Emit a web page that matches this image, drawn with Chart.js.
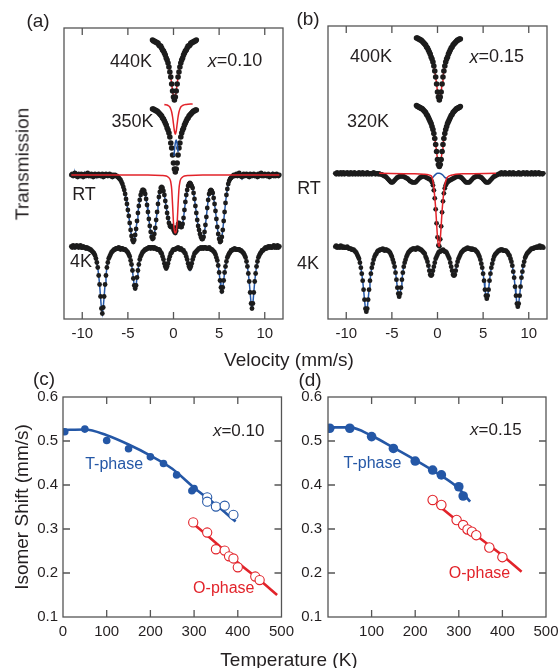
<!DOCTYPE html>
<html>
<head>
<meta charset="utf-8">
<script src="https://cdn.jsdelivr.net/npm/chart.js@4.4.1/dist/chart.umd.min.js"></script>
<style>
html,body{margin:0;padding:0;background:#fff;width:559px;height:668px;overflow:hidden;}
#wrap{position:relative;width:559px;height:668px;overflow:hidden;font-family:"Liberation Sans",Arial,Helvetica,sans-serif;color:#231f20;}
canvas{position:absolute;}
.lbl{position:absolute;white-space:nowrap;line-height:1;transform:translate(-50%,-50%);}
</style>
</head>
<body>
<div id="wrap">
<canvas id="ca" width="300" height="350" style="left:0px;top:0px"></canvas>
<canvas id="cb" width="275" height="350" style="left:290px;top:0px"></canvas>
<canvas id="cc" width="300" height="300" style="left:0px;top:360px"></canvas>
<canvas id="cd" width="275" height="300" style="left:290px;top:360px"></canvas>
<div class="lbl" style="left:38px;top:20px;font-size:19px">(a)</div>
<div class="lbl" style="left:308px;top:18px;font-size:19px">(b)</div>
<div class="lbl" style="left:44px;top:378px;font-size:19px">(c)</div>
<div class="lbl" style="left:310px;top:379px;font-size:19px">(d)</div>
<div class="lbl" style="left:22px;top:164px;font-size:19px;transform:translate(-50%,-50%) rotate(-90deg)">Transmission</div>
<div class="lbl" style="left:289px;top:359px;font-size:19px">Velocity (mm/s)</div>
<div class="lbl" style="left:289px;top:659px;font-size:19px">Temperature (K)</div>
</div>
<script>
// ---------------- DATA ----------------
// Velocity channels (mm/s)
const velocityWide = [
-11.2,-11.1,-11.0,-10.9,-10.8,-10.7,-10.6,-10.5,-10.4,-10.3,
-10.2,-10.1,-10.0,-9.9,-9.8,-9.7,-9.6,-9.5,-9.4,-9.3,
-9.2,-9.1,-9.0,-8.9,-8.8,-8.7,-8.6,-8.5,-8.4,-8.3,
-8.2,-8.1,-8.0,-7.9,-7.8,-7.7,-7.6,-7.5,-7.4,-7.3,
-7.2,-7.1,-7.0,-6.9,-6.8,-6.7,-6.6,-6.5,-6.4,-6.3,
-6.2,-6.1,-6.0,-5.9,-5.8,-5.7,-5.6,-5.5,-5.4,-5.3,
-5.2,-5.1,-5.0,-4.9,-4.8,-4.7,-4.6,-4.5,-4.4,-4.3,
-4.2,-4.1,-4.0,-3.9,-3.8,-3.7,-3.6,-3.5,-3.4,-3.3,
-3.2,-3.1,-3.0,-2.9,-2.8,-2.7,-2.6,-2.5,-2.4,-2.3,
-2.2,-2.1,-2.0,-1.9,-1.8,-1.7,-1.6,-1.5,-1.4,-1.3,
-1.2,-1.1,-1.0,-0.9,-0.8,-0.7,-0.6,-0.5,-0.4,-0.3,
-0.2,-0.1,0.0,0.1,0.2,0.3,0.4,0.5,0.6,0.7,
0.8,0.9,1.0,1.1,1.2,1.3,1.4,1.5,1.6,1.7,
1.8,1.9,2.0,2.1,2.2,2.3,2.4,2.5,2.6,2.7,
2.8,2.9,3.0,3.1,3.2,3.3,3.4,3.5,3.6,3.7,
3.8,3.9,4.0,4.1,4.2,4.3,4.4,4.5,4.6,4.7,
4.8,4.9,5.0,5.1,5.2,5.3,5.4,5.5,5.6,5.7,
5.8,5.9,6.0,6.1,6.2,6.3,6.4,6.5,6.6,6.7,
6.8,6.9,7.0,7.1,7.2,7.3,7.4,7.5,7.6,7.7,
7.8,7.9,8.0,8.1,8.2,8.3,8.4,8.5,8.6,8.7,
8.8,8.9,9.0,9.1,9.2,9.3,9.4,9.5,9.6,9.7,
9.8,9.9,10.0,10.1,10.2,10.3,10.4,10.5,10.6,10.7,
10.8,10.9,11.0,11.1,11.2,11.3,11.4,11.5,11.6];
const velocityNarrow = [
-2.3,-2.2,-2.1,-2.0,-1.9,-1.8,-1.7,-1.6,-1.5,-1.4,
-1.3,-1.2,-1.1,-1.0,-0.9,-0.8,-0.7,-0.6,-0.5,-0.4,
-0.3,-0.2,-0.1,0.0,0.1,0.2,0.3,0.4,0.5,0.6,
0.7,0.8,0.9,1.0,1.1,1.2,1.3,1.4,1.5,1.6,
1.7,1.8,1.9,2.0,2.1,2.2,2.3,2.4,2.5];
const velocityTicks = [-10, -5, 0, 5, 10];

// (a) x = 0.10 : relative transmission (%)
const trans440K_a = [
99.5,99.4,99.4,99.3,99.3,99.2,99.2,99.0,98.9,98.9,
98.7,98.5,98.4,98.2,98.0,97.7,97.5,97.2,96.8,96.3,
95.8,95.1,94.4,93.8,93.5,93.8,94.4,95.1,95.8,96.3,
96.8,97.2,97.5,97.7,98.0,98.2,98.4,98.5,98.7,98.9,
98.9,99.0,99.2,99.2,99.3,99.3,99.4,99.4,99.5];
const trans350K_a = [
99.5,99.5,99.4,99.4,99.3,99.3,99.2,99.1,99.0,98.9,
98.8,98.6,98.5,98.3,98.1,97.9,97.6,97.4,97.1,96.7,
96.1,95.6,94.9,94.1,93.5,93.2,93.5,94.1,94.9,95.6,
96.1,96.7,97.1,97.4,97.6,97.9,98.1,98.3,98.5,98.6,
98.8,98.9,99.0,99.1,99.2,99.3,99.3,99.4,99.4];
const velRed350K_a   = [-1.0,-0.6,-0.4,-0.3,-0.2,-0.1,0.0,0.1,0.2,0.3,0.4,0.5,0.6,0.7,0.8,1.0,1.4,2.1];
const transRed350K_a = [99.95,99.85,99.7,99.5,99.2,98.7,98.0,97.3,97.0,97.3,98.0,98.7,99.2,99.5,99.7,99.85,99.95,100.0];
const velBlue350K_a   = [0.05,0.1,0.2,0.3,0.4,0.5];
const transBlue350K_a = [94.8,95.3,96.1,96.4,96.0,95.2];
const transRT_a = [
100.0,100.1,99.9,100.0,100.2,99.9,100.0,99.8,100.1,100.0,
99.9,100.1,100.0,99.8,100.0,100.1,99.9,100.0,100.2,99.9,
100.0,99.9,100.1,100.0,99.8,100.0,100.1,99.9,100.0,99.9,
100.1,100.0,99.9,100.0,100.1,99.8,100.0,99.9,100.1,100.0,
99.9,100.0,100.1,99.9,100.0,99.8,100.0,99.9,100.0,99.9,
99.9,99.8,99.7,99.6,99.5,99.3,99.1,98.8,98.5,98.1,
97.6,97.1,96.5,95.9,95.2,94.5,93.9,93.5,93.3,93.5,
94.0,94.6,95.4,96.2,96.9,97.5,98.0,98.3,98.5,98.5,
98.4,98.1,97.6,97.0,96.3,95.6,94.9,94.3,93.8,93.6,
93.7,94.1,94.7,95.5,96.3,97.1,97.8,98.3,98.7,98.8,
98.7,98.4,98.0,97.4,96.8,96.2,95.7,95.2,94.9,94.8,
94.9,94.8,94.5,94.3,94.2,94.4,94.8,95.1,95.2,95.0,
94.8,94.8,95.1,95.7,96.5,97.3,98.0,98.5,98.9,99.1,
99.2,99.1,98.9,98.7,98.2,97.6,96.9,96.2,95.5,94.9,
94.5,94.1,93.8,93.6,93.6,93.8,94.3,95.0,95.8,96.7,
97.5,98.1,98.4,98.5,98.4,98.2,97.7,97.1,96.4,95.6,
94.8,94.1,93.6,93.3,93.4,93.8,94.5,95.4,96.3,97.2,
98.0,98.6,99.1,99.4,99.6,99.7,99.8,99.9,100.0,99.9,
100.0,100.1,99.9,100.0,100.2,99.9,100.0,99.8,100.0,100.1,
99.9,100.0,100.1,99.9,100.0,99.8,100.1,100.0,99.9,100.0,
100.1,99.9,100.0,100.0,99.8,100.1,99.9,100.0,100.2,99.9,
100.0,99.9,100.1,100.0,99.9,100.0,100.1,99.8,100.0,99.9,
100.0,100.1,99.9,100.0,99.9,100.1,100.0,99.9,100.0];
const velRedRT_a   = [-11.2,-2.8,-1.3,-0.8,-0.6,-0.4,-0.3,-0.2,-0.1,0.0,0.1,0.2,0.3,0.4,0.5,0.6,0.7,0.8,1.0,1.2,1.7,3.2,11.6];
const transRedRT_a = [100.0,100.0,99.95,99.9,99.8,99.6,99.3,98.6,97.0,95.2,94.4,94.2,94.4,95.2,97.0,98.6,99.3,99.6,99.8,99.9,99.95,100.0,100.0];
const trans4K_a = [
100.0,99.9,100.1,100.0,99.9,100.0,100.1,100.0,99.9,100.0,
100.1,99.9,99.9,100.0,99.9,99.9,99.8,99.9,99.8,99.8,
99.7,99.7,99.6,99.5,99.4,99.3,99.1,98.8,98.4,97.9,
97.1,96.2,95.0,93.8,93.3,93.9,95.0,96.2,97.1,97.9,
98.4,98.8,99.0,99.2,99.4,99.5,99.6,99.7,99.7,99.8,
99.8,99.8,99.9,99.8,99.7,99.8,99.8,99.7,99.7,99.7,
99.6,99.5,99.4,99.2,99.0,98.6,98.2,97.6,96.8,96.1,
95.8,96.1,96.9,97.6,98.2,98.7,99.0,99.2,99.4,99.5,
99.6,99.7,99.7,99.8,99.8,99.9,99.9,99.8,99.9,99.9,
99.8,99.9,99.8,99.8,99.7,99.7,99.7,99.6,99.4,99.3,
99.0,98.7,98.3,98.0,97.8,98.0,98.3,98.7,99.0,99.3,
99.4,99.6,99.7,99.7,99.7,99.8,99.8,99.9,99.8,99.7,
99.8,99.7,99.6,99.6,99.4,99.3,99.0,98.7,98.3,98.0,
97.8,98.0,98.3,98.7,99.0,99.3,99.4,99.5,99.6,99.7,
99.8,99.8,99.9,99.8,99.9,99.8,99.9,99.9,99.8,99.8,
99.8,99.9,99.8,99.7,99.7,99.6,99.5,99.4,99.2,98.9,
98.6,98.1,97.4,96.6,95.9,95.5,95.9,96.6,97.4,98.0,
98.5,98.9,99.1,99.3,99.4,99.6,99.6,99.7,99.7,99.8,
99.7,99.7,99.7,99.7,99.7,99.6,99.6,99.5,99.4,99.3,
99.1,98.9,98.5,98.0,97.3,96.5,95.4,94.3,93.8,94.3,
95.4,96.5,97.3,98.0,98.5,98.9,99.1,99.3,99.4,99.6,
99.6,99.7,99.8,99.9,99.8,99.9,100.0,99.9,100.0,99.9,
99.9,100.0,100.1,99.9,100.0,99.9,100.1,99.9,100.0];

// (b) x = 0.15 : relative transmission (%)
const trans400K_b = [
99.5,99.5,99.4,99.4,99.3,99.3,99.2,99.1,99.0,98.9,
98.8,98.6,98.5,98.3,98.1,97.9,97.6,97.4,97.1,96.7,
96.2,95.6,94.9,94.1,93.6,93.3,93.6,94.1,94.9,95.6,
96.2,96.7,97.1,97.4,97.6,97.9,98.1,98.3,98.5,98.6,
98.8,98.9,99.0,99.1,99.2,99.3,99.3,99.4,99.4];
const trans320K_b = [
99.6,99.5,99.5,99.4,99.4,99.3,99.3,99.2,99.1,99.0,
98.9,98.7,98.6,98.4,98.2,98.0,97.8,97.5,97.2,96.8,
96.3,95.7,95.0,94.2,93.7,93.5,93.7,94.2,95.0,95.7,
96.3,96.8,97.2,97.5,97.8,98.0,98.2,98.4,98.6,98.7,
98.9,99.0,99.1,99.2,99.3,99.3,99.4,99.4,99.5];
const transRT_b = [
100.0,99.9,100.1,100.0,99.9,100.0,100.1,99.9,100.0,100.1,
99.9,100.0,100.0,100.1,99.9,100.0,99.9,100.1,100.0,99.9,
100.0,100.1,99.9,100.0,100.0,99.9,100.1,100.0,99.9,100.0,
100.1,99.9,100.0,100.0,99.9,100.1,100.0,99.9,100.0,100.0,
99.9,100.0,100.1,100.0,99.9,100.0,100.0,99.9,100.0,99.9,
99.9,99.9,99.8,99.8,99.7,99.7,99.6,99.5,99.4,99.3,
99.2,99.1,99.1,99.1,99.2,99.3,99.4,99.5,99.6,99.6,
99.7,99.7,99.7,99.7,99.7,99.7,99.6,99.6,99.5,99.5,
99.4,99.3,99.2,99.2,99.1,99.1,99.1,99.1,99.1,99.2,
99.3,99.4,99.5,99.6,99.6,99.7,99.7,99.7,99.7,99.6,
99.6,99.5,99.5,99.4,99.4,99.3,99.1,98.8,98.3,97.5,
96.4,95.0,93.6,92.8,92.7,93.4,94.7,96.1,97.2,98.0,
98.5,98.8,99.0,99.1,99.2,99.3,99.3,99.4,99.4,99.5,
99.5,99.6,99.6,99.7,99.7,99.7,99.7,99.6,99.6,99.5,
99.4,99.3,99.2,99.1,99.1,99.1,99.1,99.1,99.2,99.3,
99.4,99.5,99.6,99.6,99.7,99.7,99.7,99.7,99.7,99.6,
99.6,99.5,99.4,99.3,99.2,99.1,99.1,99.1,99.1,99.2,
99.3,99.4,99.5,99.6,99.7,99.7,99.8,99.8,99.9,99.9,
100.0,99.9,100.1,100.0,99.9,100.0,100.1,99.9,100.0,100.0,
99.9,100.1,100.0,99.9,100.0,100.1,99.9,100.0,100.0,99.9,
100.0,100.1,99.9,100.0,99.9,100.0,100.1,100.0,99.9,100.0,
100.1,99.9,100.0,100.0,99.9,100.1,100.0,99.9,100.0,100.1,
99.9,100.0,100.0,100.1,99.9,100.0,100.0,99.9,100.0];
const velBlueRT_b = [-6.4,-6.0,-5.6,-5.3,-5.0,-4.7,-4.4,-4.0,-3.6,-3.2,-2.9,-2.6,-2.3,-2.0,-1.7,-1.4,-1.1,-0.8,-0.6,-0.4,-0.2,0.0,0.2,0.4,0.6,0.8,1.0,1.2,1.4,1.7,2.0,2.3,2.6,3.0,3.3,3.6,4.0,4.4,4.7,5.0,5.3,5.6,5.9,6.2,6.6];
const transBlueRT_b = [99.9,99.8,99.6,99.3,99.1,99.3,99.6,99.7,99.6,99.4,99.2,99.1,99.2,99.5,99.7,99.7,99.5,99.4,99.5,99.7,99.9,100.0,100.0,99.95,99.8,99.6,99.5,99.4,99.4,99.5,99.6,99.7,99.6,99.2,99.1,99.2,99.6,99.7,99.6,99.4,99.1,99.1,99.4,99.7,99.9];
const velRedRT_b = [-6.4,-2.5,-1.5,-1.0,-0.8,-0.6,-0.5,-0.4,-0.3,-0.2,-0.1,0.0,0.1,0.2,0.3,0.4,0.5,0.6,0.7,0.8,0.9,1.0,1.2,1.5,2.0,3.0,6.4];
const transRedRT_b = [100.0,99.95,99.9,99.85,99.8,99.6,99.2,98.6,97.6,96.5,95.0,93.6,92.8,92.7,93.4,94.7,96.2,97.3,98.2,98.8,99.2,99.5,99.7,99.8,99.9,99.95,100.0];
const trans4K_b = [
100.0,100.1,99.9,100.0,100.0,99.9,100.1,100.0,99.9,100.0,
99.9,99.9,99.9,100.0,99.9,99.8,99.8,99.8,99.7,99.7,
99.7,99.6,99.5,99.4,99.2,99.0,98.8,98.4,97.9,97.3,
96.6,95.7,94.7,93.8,93.5,93.8,94.7,95.7,96.6,97.3,
97.9,98.3,98.7,99.0,99.2,99.3,99.5,99.6,99.6,99.7,
99.7,99.7,99.8,99.7,99.6,99.7,99.7,99.6,99.6,99.5,
99.4,99.2,99.0,98.7,98.4,98.0,97.4,96.7,95.9,95.3,
95.0,95.3,95.9,96.7,97.4,98.0,98.4,98.7,99.0,99.2,
99.4,99.5,99.6,99.7,99.7,99.8,99.8,99.8,99.7,99.8,
99.9,99.8,99.8,99.7,99.7,99.6,99.5,99.4,99.3,99.0,
98.8,98.5,98.1,97.6,97.2,97.1,97.2,97.6,98.0,98.4,
98.8,99.0,99.2,99.4,99.5,99.5,99.6,99.6,99.7,99.6,
99.5,99.5,99.4,99.2,99.0,98.8,98.4,98.0,97.6,97.2,
97.1,97.2,97.6,98.1,98.5,98.8,99.0,99.2,99.4,99.5,
99.6,99.7,99.7,99.8,99.8,99.9,99.8,99.8,99.8,99.7,
99.8,99.7,99.7,99.7,99.6,99.5,99.4,99.2,99.0,98.7,
98.3,97.9,97.3,96.6,95.7,95.1,94.8,95.1,95.7,96.6,
97.3,97.9,98.3,98.7,99.0,99.2,99.3,99.4,99.5,99.6,
99.6,99.7,99.7,99.7,99.6,99.6,99.6,99.6,99.5,99.4,
99.2,99.1,98.8,98.5,98.1,97.5,96.9,96.0,95.1,94.3,
94.0,94.3,95.1,96.0,96.9,97.5,98.1,98.5,98.9,99.1,
99.3,99.4,99.5,99.6,99.7,99.8,99.8,99.8,99.9,99.9,
99.9,100.0,99.9,100.0,100.1,99.9,100.0,100.0,99.9];

// (c) x = 0.10 : isomer shift vs temperature
const tempTicks = [0, 100, 200, 300, 400, 500];
const shiftTicks = [0.1, 0.2, 0.3, 0.4, 0.5, 0.6];
const tTfill_c = [4, 50, 100, 150, 200, 230, 260, 295, 300];
const isTfill_c = [0.521, 0.527, 0.501, 0.4825, 0.464, 0.449, 0.423, 0.387, 0.392];
const tTopen_c = [330, 330, 350, 370, 390];
const isTopen_c = [0.372, 0.362, 0.351, 0.353, 0.332];
const tO_c = [298, 330, 350, 370, 380, 390, 400, 440, 450];
const isO_c = [0.315, 0.292, 0.254, 0.251, 0.238, 0.233, 0.213, 0.192, 0.184];
const tFitT_c = [0, 50, 100, 150, 200, 250, 300, 350, 395];
const isFitT_c = [0.525, 0.526, 0.513, 0.492, 0.467, 0.437, 0.394, 0.355, 0.317];
const tFitO_c = [297, 350, 400, 450, 490];
const isFitO_c = [0.313, 0.268, 0.224, 0.184, 0.150];

// (d) x = 0.15
const tTfill_d = [4, 50, 100, 150, 200, 240, 260, 300, 310];
const isTfill_d = [0.529, 0.529, 0.510, 0.483, 0.4545, 0.434, 0.423, 0.396, 0.375];
const tO_d = [240, 260, 295, 310, 320, 330, 340, 370, 400];
const isO_d = [0.366, 0.3545, 0.3205, 0.309, 0.299, 0.294, 0.286, 0.258, 0.236];
const tFitT_d = [0, 50, 100, 150, 200, 250, 300, 326];
const isFitT_d = [0.531, 0.531, 0.512, 0.485, 0.457, 0.427, 0.392, 0.362];
const tFitO_d = [249, 300, 350, 400, 444];
const isFitO_d = [0.357, 0.316, 0.278, 0.240, 0.203];

// ---------------- STYLE / LAYOUT ----------------
const BLUE = '#2457a6', RED = '#e2232a', INK = '#1c1c1c', FRAME = '#555555', TXT = '#231f20';
const FONT = "'Liberation Sans', Arial, Helvetica, sans-serif";
Chart.defaults.font.family = FONT;
Chart.defaults.color = TXT;

// vertical stacking offsets of the spectra (axis units)
const OFF_A = {k440: 28.4, k350: 21.5, rt: 14.4, k4: 7.25};
const OFF_B = {k400: 28.6, k320: 21.75, rt: 14.57, k4: 7.23};

function stack(xs, ys, off) { return xs.map((x, i) => ({x: x, y: off + (ys[i] - 100)})); }
function xy(xs, ys) { return xs.map((x, i) => ({x: x, y: ys[i]})); }

const FRAMES = {
  ca: {x: velocityTicks, y: []},
  cb: {x: velocityTicks, y: []},
  cc: {x: [100, 200, 300, 400], y: [0.2, 0.3, 0.4, 0.5]},
  cd: {x: [100, 200, 300, 400], y: [0.2, 0.3, 0.4, 0.5]}
};
const NOTES = {
  ca: [
    {x: -4.66, y: 25.7, parts: [{t: '440K'}], size: 18},
    {x: -4.49, y: 19.65, parts: [{t: '350K'}], size: 18},
    {x: -9.81, y: 12.4, parts: [{t: 'RT'}], size: 18},
    {x: -10.14, y: 5.65, parts: [{t: '4K'}], size: 18},
    {x: 6.74, y: 25.75, parts: [{t: 'x', it: true}, {t: '=0.10'}], size: 18}
  ],
  cb: [
    {x: -7.29, y: 26.15, parts: [{t: '400K'}], size: 18},
    {x: 6.49, y: 26.15, parts: [{t: 'x', it: true}, {t: '=0.15'}], size: 18},
    {x: -7.62, y: 19.65, parts: [{t: '320K'}], size: 18},
    {x: -14.08, y: 12.95, parts: [{t: 'RT'}], size: 18},
    {x: -14.19, y: 5.45, parts: [{t: '4K'}], size: 18}
  ],
  cc: [
    {x: 117, y: 0.4455, parts: [{t: 'T-phase'}], size: 16, color: BLUE},
    {x: 368, y: 0.165, parts: [{t: 'O-phase'}], size: 16, color: RED},
    {x: 402, y: 0.5216, parts: [{t: 'x', it: true}, {t: '=0.10'}], size: 17}
  ],
  cd: [
    {x: 102, y: 0.449, parts: [{t: 'T-phase'}], size: 16, color: BLUE},
    {x: 347.5, y: 0.199, parts: [{t: 'O-phase'}], size: 16, color: RED},
    {x: 385, y: 0.525, parts: [{t: 'x', it: true}, {t: '=0.15'}], size: 17}
  ]
};

const framePlugin = {
  id: 'frameTicks',
  afterDraw(chart) {
    const f = FRAMES[chart.canvas.id]; if (!f) return;
    const ctx = chart.ctx, a = chart.chartArea, sx = chart.scales.x, sy = chart.scales.y;
    const L = 7;
    ctx.save();
    ctx.strokeStyle = FRAME; ctx.lineWidth = 1.3;
    ctx.strokeRect(a.left, a.top, a.right - a.left, a.bottom - a.top);
    ctx.beginPath();
    f.x.forEach(v => { const p = sx.getPixelForValue(v);
      ctx.moveTo(p, a.bottom); ctx.lineTo(p, a.bottom - L);
      ctx.moveTo(p, a.top); ctx.lineTo(p, a.top + L); });
    f.y.forEach(v => { const p = sy.getPixelForValue(v);
      ctx.moveTo(a.left, p); ctx.lineTo(a.left + L, p);
      ctx.moveTo(a.right, p); ctx.lineTo(a.right - L, p); });
    ctx.stroke();
    ctx.restore();
  }
};
const notesPlugin = {
  id: 'notes',
  afterDatasetsDraw(chart) {
    const items = NOTES[chart.canvas.id]; if (!items) return;
    const ctx = chart.ctx, sx = chart.scales.x, sy = chart.scales.y;
    items.forEach(it => {
      const px = sx.getPixelForValue(it.x), py = sy.getPixelForValue(it.y);
      ctx.save();
      ctx.fillStyle = it.color || TXT;
      ctx.textBaseline = 'middle'; ctx.textAlign = 'left';
      const fonts = it.parts.map(p => (p.it ? 'italic ' : '') + it.size + 'px ' + FONT);
      let total = 0;
      const w = it.parts.map((p, i) => { ctx.font = fonts[i]; const m = ctx.measureText(p.t).width; total += m; return m; });
      let cx = px - total / 2;
      it.parts.forEach((p, i) => { ctx.font = fonts[i]; ctx.fillText(p.t, cx, py); cx += w[i]; });
      ctx.restore();
    });
  }
};
Chart.register(framePlugin, notesPlugin);

const dots = {showLine: false, pointRadius: 2.4, pointBackgroundColor: INK, pointBorderWidth: 0, pointHoverRadius: 0, order: 0};
const dotsThick = {showLine: false, pointRadius: 2.8, pointBackgroundColor: INK, pointBorderWidth: 0, pointHoverRadius: 0, order: 0};
function fitLine(color, order, smooth) {
  return {showLine: true, pointRadius: 0, pointHoverRadius: 0, borderColor: color, borderWidth: 1.5,
          backgroundColor: color, fill: false, order: order,
          cubicInterpolationMode: smooth ? 'monotone' : 'default', tension: 0};
}
const base = {
  responsive: false, animation: false, devicePixelRatio: 1, events: [],
  plugins: {legend: {display: false}, tooltip: {enabled: false}}
};
function tickSet(vals) { return s => { s.ticks = vals.map(v => ({value: v})); }; }
function xVel(height) {
  return {type: 'linear', min: -12, max: 12, afterBuildTicks: tickSet(velocityTicks),
    afterFit: s => { s.height = height; },
    grid: {display: false, drawTicks: false}, border: {display: false},
    ticks: {padding: 6, font: {size: 15}, color: TXT, maxRotation: 0, autoSkip: false, callback: v => String(v)}};
}

// ---------- (a) ----------
new Chart(document.getElementById('ca'), {
  type: 'scatter',
  data: {datasets: [
    Object.assign({data: stack(velocityNarrow, trans440K_a, OFF_A.k440)}, dotsThick),
    Object.assign({data: stack(velocityNarrow, trans440K_a, OFF_A.k440)}, fitLine(RED, 3, false)),
    Object.assign({data: stack(velocityNarrow, trans350K_a, OFF_A.k350)}, dotsThick),
    Object.assign({data: stack(velRed350K_a, transRed350K_a, OFF_A.k350)}, fitLine(RED, -1, true)),
    Object.assign({data: stack(velBlue350K_a, transBlue350K_a, OFF_A.k350)}, fitLine(BLUE, -2, true)),
    Object.assign({data: stack(velocityWide, transRT_a, OFF_A.rt)}, dots),
    Object.assign({data: stack(velocityWide, transRT_a, OFF_A.rt)}, fitLine(BLUE, 3, false)),
    Object.assign({data: stack(velRedRT_a, transRedRT_a, OFF_A.rt)}, fitLine(RED, -1, true)),
    Object.assign({data: stack(velocityWide, trans4K_a, OFF_A.k4)}, dots),
    Object.assign({data: stack(velocityWide, trans4K_a, OFF_A.k4)}, fitLine(BLUE, 3, false))
  ]},
  options: Object.assign({}, base, {
    layout: {padding: {left: 64, top: 28, right: 17, bottom: 0}},
    scales: {x: xVel(31), y: {type: 'linear', min: 0, max: 29.1, display: false}}
  })
});

// ---------- (b) ----------
new Chart(document.getElementById('cb'), {
  type: 'scatter',
  data: {datasets: [
    Object.assign({data: stack(velocityNarrow, trans400K_b, OFF_B.k400)}, dotsThick),
    Object.assign({data: stack(velocityNarrow, trans400K_b, OFF_B.k400)}, fitLine(RED, 3, false)),
    Object.assign({data: stack(velocityNarrow, trans320K_b, OFF_B.k320)}, dotsThick),
    Object.assign({data: stack(velocityNarrow, trans320K_b, OFF_B.k320)}, fitLine(RED, 3, false)),
    Object.assign({data: stack(velocityWide, transRT_b, OFF_B.rt)}, dots),
    Object.assign({data: stack(velBlueRT_b, transBlueRT_b, OFF_B.rt)}, fitLine(BLUE, 2, true)),
    Object.assign({data: stack(velRedRT_b, transRedRT_b, OFF_B.rt)}, fitLine(RED, -1, true)),
    Object.assign({data: stack(velocityWide, trans4K_b, OFF_B.k4)}, dots),
    Object.assign({data: stack(velocityWide, trans4K_b, OFF_B.k4)}, fitLine(BLUE, 3, false))
  ]},
  options: Object.assign({}, base, {
    layout: {padding: {left: 38, top: 26, right: 18, bottom: 0}},
    scales: {x: xVel(31), y: {type: 'linear', min: 0, max: 29.3, display: false}}
  })
});

// ---------- (c) & (d) ----------
function shiftChart(id, sets, opts) {
  new Chart(document.getElementById(id), {
    type: 'scatter',
    data: {datasets: sets},
    options: Object.assign({}, base, {
      layout: {padding: {left: 0, top: 37, right: opts.right, bottom: 0}},
      scales: {
        x: {type: 'linear', min: 0, max: 500, afterBuildTicks: tickSet(opts.xticks),
            afterFit: s => { s.height = 43; },
            grid: {display: false, drawTicks: false}, border: {display: false},
            ticks: {padding: 6, font: {size: 15}, color: TXT, maxRotation: 0, autoSkip: false, callback: v => String(v)}},
        y: {type: 'linear', min: 0.1, max: 0.6, afterBuildTicks: tickSet(shiftTicks),
            afterFit: s => { s.width = opts.yw; },
            grid: {display: false, drawTicks: false}, border: {display: false},
            ticks: {padding: opts.ypad, font: {size: 15}, color: TXT, autoSkip: false, callback: v => Number(v).toFixed(1)},
            title: opts.title ? {display: true, text: opts.title, font: {size: 19}, color: TXT, padding: {top: 11, bottom: 0}} : {display: false}}
      }
    })
  });
}
function markers(color, filled, r) {
  return {showLine: false, pointRadius: r, pointHoverRadius: 0, pointBackgroundColor: filled ? color : '#ffffff',
          pointBorderColor: color, pointBorderWidth: filled ? 0 : 1.1, order: 0};
}
function thick(color) {
  return {showLine: true, pointRadius: 0, pointHoverRadius: 0, borderColor: color, borderWidth: 2.6, fill: false,
          cubicInterpolationMode: 'monotone', order: 2};
}
shiftChart('cc', [
  Object.assign({data: xy(tTfill_c, isTfill_c)}, markers(BLUE, true, 3.8)),
  Object.assign({data: xy(tTopen_c, isTopen_c)}, markers(BLUE, false, 4.6)),
  Object.assign({data: xy(tO_c, isO_c)}, markers(RED, false, 4.6)),
  Object.assign({data: xy(tFitT_c, isFitT_c)}, thick(BLUE)),
  Object.assign({data: xy(tFitO_c, isFitO_c)}, thick(RED))
], {right: 17, xticks: tempTicks, yw: 63, ypad: 5, title: 'Isomer Shift (mm/s)'});

shiftChart('cd', [
  Object.assign({data: xy(tTfill_d, isTfill_d)}, markers(BLUE, true, 4.8)),
  Object.assign({data: xy(tO_d, isO_d)}, markers(RED, false, 4.7)),
  Object.assign({data: xy(tFitT_d, isFitT_d)}, thick(BLUE)),
  Object.assign({data: xy(tFitO_d, isFitO_d)}, thick(RED))
], {right: 19, xticks: [100, 200, 300, 400, 500], yw: 38, ypad: 6, title: null});
</script>
</body>
</html>
